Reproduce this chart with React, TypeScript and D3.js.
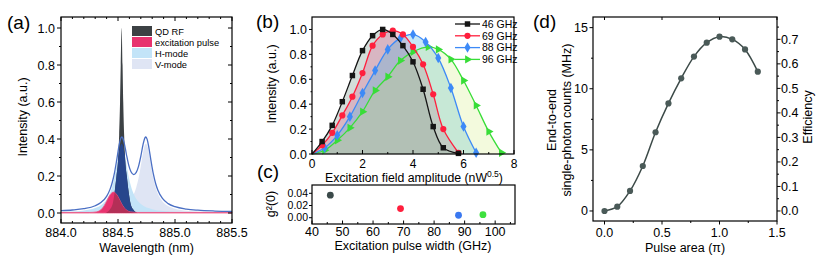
import React from 'react';
import * as d3 from 'd3';

const FONT = "'Liberation Sans', Arial, Helvetica, sans-serif";

// ---------------- (a) spectra ----------------
const qdRfWavelength = [884.39, 884.43, 884.457, 884.472, 884.487, 884.502, 884.51, 884.518, 884.524, 884.532, 884.54, 884.546, 884.554, 884.562, 884.577, 884.592, 884.607, 884.632, 884.67];
const qdRfIntensity = [0, 0.02, 0.06, 0.12, 0.2, 0.3, 0.42, 0.6, 0.8, 1.0, 0.8, 0.6, 0.42, 0.3, 0.2, 0.12, 0.06, 0.02, 0];

const pulseWavelength = [884.0, 884.25, 884.31, 884.34, 884.36, 884.38, 884.40, 884.42, 884.44, 884.46, 884.48, 884.50, 884.52, 884.54, 884.56, 884.58, 884.61, 884.68, 885.5];
const pulseIntensity = [0.003, 0.003, 0.006, 0.013, 0.024, 0.041, 0.064, 0.088, 0.106, 0.113, 0.106, 0.088, 0.064, 0.041, 0.024, 0.013, 0.006, 0.003, 0.003];

const hModeWavelength = [884.0, 884.1, 884.2, 884.3, 884.35, 884.4, 884.43, 884.45, 884.47, 884.49, 884.51, 884.522, 884.532, 884.542, 884.554, 884.574, 884.594, 884.614, 884.634, 884.664, 884.7, 884.8, 884.9, 885.0, 885.2, 885.5];
const hModeIntensity = [0.0055, 0.0083, 0.0138, 0.0273, 0.0424, 0.0732, 0.1083, 0.1447, 0.1963, 0.2646, 0.3364, 0.366, 0.375, 0.366, 0.3364, 0.2646, 0.1963, 0.1447, 0.1083, 0.0732, 0.0488, 0.0208, 0.0114, 0.0071, 0.0035, 0.0017];

const vModeWavelength = [884.0, 884.2, 884.4, 884.5, 884.55, 884.6, 884.64, 884.66, 884.68, 884.7, 884.72, 884.735, 884.745, 884.755, 884.77, 884.79, 884.81, 884.83, 884.85, 884.89, 884.94, 885.0, 885.1, 885.2, 885.35, 885.5];
const vModeIntensity = [0.0028, 0.0053, 0.0129, 0.0247, 0.0375, 0.0628, 0.1039, 0.1384, 0.1875, 0.2535, 0.3267, 0.366, 0.375, 0.366, 0.3267, 0.2535, 0.1875, 0.1384, 0.1039, 0.0628, 0.0375, 0.0229, 0.0122, 0.0075, 0.0043, 0.0028];

const cavityWavelength = [884.0, 884.1, 884.2, 884.3, 884.35, 884.4, 884.43, 884.45, 884.47, 884.49, 884.51, 884.522, 884.532, 884.542, 884.554, 884.574, 884.594, 884.614, 884.638, 884.66, 884.68, 884.70, 884.72, 884.735, 884.745, 884.755, 884.77, 884.79, 884.81, 884.83, 884.85, 884.89, 884.94, 885.0, 885.1, 885.2, 885.35, 885.5];
const cavityIntensity = [0.0123, 0.0161, 0.0231, 0.0391, 0.0563, 0.0901, 0.1276, 0.1661, 0.2201, 0.2915, 0.367, 0.3994, 0.4109, 0.4049, 0.3793, 0.316, 0.2589, 0.2228, 0.2076, 0.2193, 0.2521, 0.3063, 0.3708, 0.4049, 0.4109, 0.3994, 0.3567, 0.2799, 0.2109, 0.1594, 0.1229, 0.0787, 0.0508, 0.034, 0.021, 0.015, 0.0106, 0.0084];

const aXTicks = [884.0, 884.5, 885.0, 885.5];
const aXMinor = [884.1, 884.2, 884.3, 884.4, 884.6, 884.7, 884.8, 884.9, 885.1, 885.2, 885.3, 885.4];
const aYTicks = [0, 0.2, 0.4, 0.6, 0.8, 1.0];
const aYMinor = [0.1, 0.3, 0.5, 0.7, 0.9];
const aLegend = ['QD RF', 'excitation pulse', 'H-mode', 'V-mode'];

// ---------------- (b) ----------------
const bNames = ['46 GHz', '69 GHz', '88 GHz', '96 GHz'];
const b46Field = [0, 0.4, 0.8, 1.2, 1.6, 2.0, 2.4, 2.8, 3.2, 3.6, 4.0, 4.4, 4.8, 5.2, 5.8];
const b46Int = [0, 0.1, 0.23, 0.42, 0.63, 0.83, 0.95, 1.0, 0.96, 0.87, 0.74, 0.52, 0.22, 0.05, 0.005];
const b69Field = [0, 0.4, 0.8, 1.2, 1.6, 2.0, 2.4, 2.8, 3.2, 3.6, 4.0, 4.4, 4.8, 5.2, 5.8];
const b69Int = [0, 0.07, 0.17, 0.31, 0.46, 0.65, 0.87, 0.96, 0.99, 0.96, 0.86, 0.72, 0.48, 0.2, 0.01];
const b88Field = [0, 0.5, 1.0, 1.5, 2.0, 2.5, 3.0, 3.5, 4.0, 4.5, 5.0, 5.5, 6.0, 6.5];
const b88Int = [0, 0.05, 0.15, 0.3, 0.49, 0.67, 0.84, 0.93, 0.96, 0.9, 0.77, 0.53, 0.22, 0.01];
const b96Field = [0, 0.5, 1.0, 1.5, 2.0, 2.5, 3.0, 3.5, 4.0, 4.6, 5.0, 5.5, 6.0, 6.5, 7.0, 7.5];
const b96Int = [0, 0.03, 0.11, 0.21, 0.34, 0.51, 0.62, 0.75, 0.82, 0.86, 0.84, 0.76, 0.59, 0.39, 0.18, 0.01];
const bXTicks = [0, 2, 4, 6, 8];
const bXMinor = [1, 3, 5, 7];
const bYTicks = [0, 0.2, 0.4, 0.6, 0.8, 1.0];
const bYMinor = [0.1, 0.3, 0.5, 0.7, 0.9];

// ---------------- (c) ----------------
const cPulseWidth = [46, 69, 88, 96];
const cG2 = [0.037, 0.015, 0.004, 0.005];
const cXTicks = [40, 50, 60, 70, 80, 90, 100];
const cXMinor = [45, 55, 65, 75, 85, 95, 105];
const cYTicks = [0, 0.02, 0.04];

// ---------------- (d) ----------------
const dPulseArea = [0, 0.111, 0.222, 0.333, 0.444, 0.556, 0.667, 0.778, 0.889, 1.0, 1.111, 1.222, 1.333];
const dCounts = [0, 0.35, 1.64, 3.68, 6.44, 8.8, 10.85, 12.63, 13.77, 14.26, 14.04, 13.22, 11.4];
const dXTicks = [0, 0.5, 1.0, 1.5];
const dXMinor = [0.25, 0.75, 1.25];
const dYTicks = [0, 5, 10, 15];
const dYMinor = [2.5, 7.5, 12.5];
const dEffTicks = [0, 0.1, 0.2, 0.3, 0.4, 0.5, 0.6, 0.7];
const dEffMinor = [0.05, 0.15, 0.25, 0.35, 0.45, 0.55, 0.65, 0.75];

type S = (v: number) => number;

function VTicks({ s, x, vals, len }: { s: S; x: number; vals: number[]; len: number }) {
  return <g>{vals.map((v) => <line key={v} x1={x} x2={x - len} y1={s(v)} y2={s(v)} stroke="#000" strokeWidth={1} />)}</g>;
}
function HTicks({ s, y, vals, len }: { s: S; y: number; vals: number[]; len: number }) {
  return <g>{vals.map((v) => <line key={v} x1={s(v)} x2={s(v)} y1={y} y2={y + len} stroke="#000" strokeWidth={1} />)}</g>;
}
function LeftLabels({ s, x, vals, fmt, fs = 12, anchor = 'end' }: { s: S; x: number; vals: number[]; fmt: (v: number) => string; fs?: number; anchor?: string }) {
  return <g>{vals.map((v) => <text key={v} x={x} y={s(v)} dy="0.36em" textAnchor={anchor as any} fontSize={fs}>{fmt(v)}</text>)}</g>;
}
function BottomLabels({ s, y, vals, fmt, fs = 12 }: { s: S; y: number; vals: number[]; fmt: (v: number) => string; fs?: number }) {
  return <g>{vals.map((v) => <text key={v} x={s(v)} y={y} textAnchor="middle" fontSize={fs}>{fmt(v)}</text>)}</g>;
}

function areaPath(xs: number[], ys: number[], sx: S, sy: S, curve: any = d3.curveMonotoneX) {
  return d3.area<number>().x((i) => sx(xs[i])).y0(sy(0)).y1((i) => sy(ys[i])).curve(curve)(d3.range(xs.length)) || '';
}
function linePath(xs: number[], ys: number[], sx: S, sy: S, curve: any = d3.curveMonotoneX) {
  return d3.line<number>().x((i) => sx(xs[i])).y((i) => sy(ys[i])).curve(curve)(d3.range(xs.length)) || '';
}

export default function App() {
  // ---- panel (a)
  const aX = d3.scaleLinear().domain([884, 885.5]).range([61, 232]);
  const aY = d3.scaleLinear().domain([0, 1]).range([213, 28]);
  const aTop = 17, aBottom = 223;
  const hArea = areaPath(hModeWavelength, hModeIntensity, aX, aY);
  const vArea = areaPath(vModeWavelength, vModeIntensity, aX, aY);
  const qdArea = areaPath(qdRfWavelength, qdRfIntensity, aX, aY);
  const pulseArea = areaPath(pulseWavelength, pulseIntensity, aX, aY);
  const cavLine = linePath(cavityWavelength, cavityIntensity, aX, aY);
  const aLegendColors = ['#3c4144', '#e8336f', '#c3e4f8', '#dfe5f4'];

  // ---- panel (b)
  const bX = d3.scaleLinear().domain([0, 8]).range([312, 514]);
  const bY = d3.scaleLinear().domain([0, 1.1]).range([154, 17]);
  const bSeries = [
    { name: bNames[0], xs: b46Field, ys: b46Int, color: '#151515', fill: 'rgba(100,135,122,0.28)', sym: d3.symbolSquare, size: 30, rot: 0 },
    { name: bNames[1], xs: b69Field, ys: b69Int, color: '#ff1f3d', fill: 'rgba(225,90,140,0.3)', sym: d3.symbolCircle, size: 30, rot: 0 },
    { name: bNames[2], xs: b88Field, ys: b88Int, color: '#3d8af7', fill: 'rgba(70,180,230,0.3)', sym: d3.symbolDiamond, size: 32, rot: 0 },
    { name: bNames[3], xs: b96Field, ys: b96Int, color: '#38dd38', fill: 'rgba(200,230,100,0.22)', sym: d3.symbolTriangle, size: 30, rot: 90 },
  ];
  const fillOrder = [0, 1, 2, 3];
  const lineOrder = [3, 2, 1, 0];

  // ---- panel (c)
  const cX = d3.scaleLinear().domain([40, 106.5]).range([312, 515]);
  const cY = d3.scaleLinear().domain([-0.0103, 0.0536]).range([224, 185]);
  const cColors = ['#3b4a4a', '#ff1f3d', '#3a78f0', '#3ee03e'];

  // ---- panel (d)
  const dX = d3.scaleLinear().domain([-0.1, 1.5]).range([593, 777]);
  const dY = d3.scaleLinear().domain([-0.82, 15.87]).range([221, 17]);
  const effFactor = 20.06;
  const dE = d3.scaleLinear().domain([-0.82 / effFactor, 15.87 / effFactor]).range([221, 17]);
  const dLine = linePath(dPulseArea, dCounts, dX, dY, d3.curveCatmullRom.alpha(0.5));

  const f1 = (v: number) => v.toFixed(1);
  const f2 = (v: number) => v.toFixed(2);
  const f0 = (v: number) => String(v);

  return (
    <svg width={830} height={263} style={{ position: 'absolute', left: 0, top: 0, fontFamily: FONT }} fill="#000">
      <rect x={0} y={0} width={830} height={263} fill="#fff" />
      <defs>
        <clipPath id="clipH"><path d={hArea} /></clipPath>
        <clipPath id="clipPulse"><path d={pulseArea} /></clipPath>
      </defs>

      {/* ============ (a) ============ */}
      <g>
        <path d={vArea} fill="#dfe5f4" />
        <path d={hArea} fill="#c3e4f8" />
        <path d={qdArea} fill="#3c4144" />
        <path d={qdArea} fill="#27468c" clipPath="url(#clipH)" />
        <path d={pulseArea} fill="#e8336f" stroke="#ec5a88" strokeWidth={0.8} />
        <path d={qdArea} fill="#b42f57" clipPath="url(#clipPulse)" />
        <path d={cavLine} fill="none" stroke="#4a6fc4" strokeWidth={1.3} />
        <rect x={61} y={aTop} width={171} height={aBottom - aTop} fill="none" stroke="#000" strokeWidth={1.2} />
        <VTicks s={aY} x={61} vals={aYTicks} len={4} />
        <VTicks s={aY} x={61} vals={aYMinor} len={2} />
        <VTicks s={aY} x={232} vals={aYTicks} len={4} />
        <VTicks s={aY} x={232} vals={aYMinor} len={2} />
        <HTicks s={aX} y={aBottom} vals={aXTicks} len={-4} />
        <HTicks s={aX} y={aBottom} vals={aXMinor} len={-2} />
        <HTicks s={aX} y={aTop} vals={aXTicks} len={4} />
        <HTicks s={aX} y={aTop} vals={aXMinor} len={2} />
        <LeftLabels s={aY} x={55} vals={aYTicks} fmt={f1} fs={12.5} />
        <BottomLabels s={aX} y={237} vals={aXTicks} fmt={f1} fs={12.5} />
        <text x={146.5} y={252} textAnchor="middle" fontSize={12.5}>Wavelength (nm)</text>
        <text transform="translate(27,117) rotate(-90)" textAnchor="middle" fontSize={12.5}>Intensity (a.u.)</text>
        <text x={7} y={29} fontSize={19}>(a)</text>
        {aLegend.map((name, i) => (
          <g key={name}>
            <rect x={132} y={26 + i * 11} width={20} height={10} fill={aLegendColors[i]} />
            <text x={155} y={34.5 + i * 11} fontSize={9.3}>{name}</text>
          </g>
        ))}
      </g>

      {/* ============ (b) ============ */}
      <g>
        {fillOrder.map((k) => {
          const s = bSeries[k];
          return <path key={'f' + k} d={areaPath(s.xs, s.ys, bX, bY, d3.curveCatmullRom.alpha(0.5))} fill={s.fill} />;
        })}
        {lineOrder.map((k) => {
          const s = bSeries[k];
          const sym = d3.symbol().type(s.sym).size(s.size)() || '';
          return (
            <g key={'l' + k}>
              <path d={linePath(s.xs, s.ys, bX, bY, d3.curveCatmullRom.alpha(0.5))} fill="none" stroke={s.color} strokeWidth={1.3} />
              {s.xs.map((xv, i) => (i === 0 ? null : (
                <path key={i} d={sym} fill={s.color} transform={`translate(${bX(xv)},${bY(s.ys[i])}) rotate(${s.rot})`} />
              )))}
            </g>
          );
        })}
        <rect x={312} y={17} width={202} height={137} fill="none" stroke="#000" strokeWidth={1.2} />
        <VTicks s={bY} x={312} vals={bYTicks} len={3} />
        <VTicks s={bY} x={312} vals={bYMinor} len={1.5} />
        <HTicks s={bX} y={154} vals={bXTicks} len={-4} />
        <HTicks s={bX} y={154} vals={bXMinor} len={-2} />
        <LeftLabels s={bY} x={307} vals={bYTicks} fmt={f1} fs={12.5} />
        <BottomLabels s={bX} y={168} vals={bXTicks} fmt={f0} fs={12} />
        <text x={414} y={181.5} textAnchor="middle" fontSize={12.3}>
          Excitation field amplitude (nW<tspan dy={-4.5} fontSize={8.5}>0.5</tspan><tspan dy={4.5}>)</tspan>
        </text>
        <text transform="translate(276,84) rotate(-90)" textAnchor="middle" fontSize={12.5}>Intensity (a.u.)</text>
        <text x={256} y={28} fontSize={19}>(b)</text>
        {bSeries.map((s, i) => {
          const sym = d3.symbol().type(s.sym).size(s.size)() || '';
          const yy = 24 + i * 11.8;
          return (
            <g key={'lg' + i}>
              <line x1={455} x2={480} y1={yy} y2={yy} stroke={s.color} strokeWidth={1.3} />
              <path d={sym} fill={s.color} transform={`translate(467.5,${yy}) rotate(${s.rot})`} />
              <text x={482} y={yy} dy="0.36em" fontSize={10.5}>{s.name}</text>
            </g>
          );
        })}
      </g>

      {/* ============ (c) ============ */}
      <g>
        <rect x={312} y={185} width={203} height={39} fill="none" stroke="#000" strokeWidth={1.2} />
        <VTicks s={cY} x={312} vals={cYTicks} len={3} />
        <HTicks s={cX} y={224} vals={cXTicks} len={-3.5} />
        <HTicks s={cX} y={224} vals={cXMinor} len={-2} />
        <LeftLabels s={cY} x={308} vals={cYTicks} fmt={f2} fs={10.5} />
        <BottomLabels s={cX} y={235.5} vals={cXTicks} fmt={f0} fs={12.5} />
        {cPulseWidth.map((w, i) => (
          <circle key={w} cx={cX(w)} cy={cY(cG2[i])} r={3.4} fill={cColors[i]} />
        ))}
        <text x={413} y={249.5} textAnchor="middle" fontSize={12.5}>Excitation pulse width (GHz)</text>
        <text transform="translate(275,204) rotate(-90)" textAnchor="middle" fontSize={12.5}>g²(0)</text>
        <text x={257} y={178} fontSize={19}>(c)</text>
      </g>

      {/* ============ (d) ============ */}
      <g>
        <path d={dLine} fill="none" stroke="#3c4a48" strokeWidth={1.5} />
        {dPulseArea.map((a, i) => (
          <circle key={i} cx={dX(a)} cy={dY(dCounts[i])} r={3.1} fill="#4a5a58" />
        ))}
        <rect x={593} y={17} width={184} height={204} fill="none" stroke="#000" strokeWidth={1.2} />
        <VTicks s={dY} x={593} vals={dYTicks} len={3.5} />
        <VTicks s={dY} x={593} vals={dYMinor} len={2} />
        <VTicks s={dE} x={777} vals={dEffTicks} len={-3.5} />
        <VTicks s={dE} x={777} vals={dEffMinor.filter((v) => v < 0.78)} len={-2} />
        <HTicks s={dX} y={221} vals={dXTicks} len={3.5} />
        <HTicks s={dX} y={221} vals={dXMinor} len={2} />
        <HTicks s={dX} y={17} vals={dXTicks} len={3} />
        <LeftLabels s={dY} x={588} vals={dYTicks} fmt={f0} fs={12.5} />
        <LeftLabels s={dE} x={781} vals={dEffTicks} fmt={f1} fs={12.5} anchor="start" />
        <BottomLabels s={dX} y={237} vals={dXTicks} fmt={f1} fs={12.5} />
        <text x={685} y={252} textAnchor="middle" fontSize={12.5}>Pulse area (π)</text>
        <text transform="translate(556,120) rotate(-90)" textAnchor="middle" fontSize={12.5}>End-to-end</text>
        <text transform="translate(571,120) rotate(-90)" textAnchor="middle" fontSize={12.5}>single-photon counts (MHz)</text>
        <text transform="translate(812,117) rotate(-90)" textAnchor="middle" fontSize={12.5}>Efficiency</text>
        <text x={533} y={28} fontSize={19}>(d)</text>
      </g>
    </svg>
  );
}
